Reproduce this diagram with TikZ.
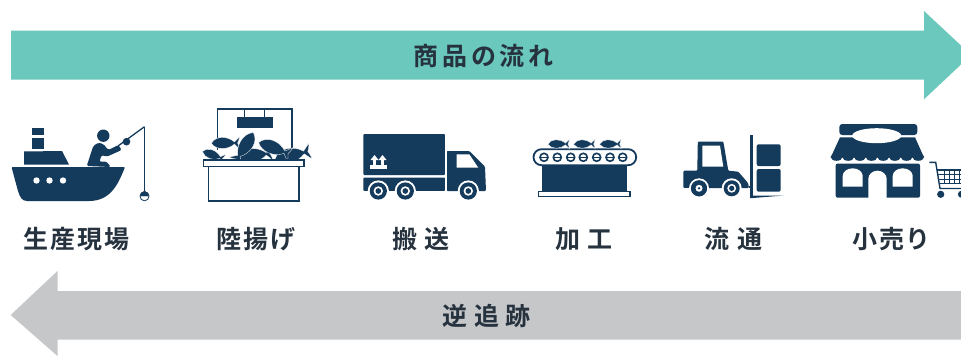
\documentclass[tikz,border=0pt]{standalone}
\usepackage{fontspec}
\newfontfamily\jp[LetterSpace=7]{Noto Sans CJK JP Bold}
\newfontfamily\jptop[LetterSpace=15]{Noto Sans CJK JP Bold}
\newfontfamily\jpbot[LetterSpace=27]{Noto Sans CJK JP Bold}
\usetikzlibrary{calc}
\definecolor{navy}{HTML}{143A5C}
\definecolor{teal}{HTML}{6BC8BC}
\definecolor{greyarrow}{HTML}{C6C7C9}
\definecolor{labelc}{HTML}{26333F}
\tikzset{
 lab/.style={font=\jp\fontsize{25}{25}\selectfont,text=labelc,inner sep=0pt,anchor=center},
 labtop/.style={font=\jptop\fontsize{25}{25}\selectfont,text=labelc,inner sep=0pt,anchor=center},
 labbot/.style={font=\jpbot\fontsize{25}{25}\selectfont,text=labelc,inner sep=0pt,anchor=center},
 ln/.style={draw=navy,line width=1.5pt},
}
\newcommand{\fishy}[4]{% x y angle scale
 \begin{scope}[shift={(#1,#2)},rotate=#3,scale=#4]
  \fill[navy,draw=white,line width=.3pt] (-13,0.5) .. controls (-9,-7) and (2,-7) .. (9,-1) -- (14,-6) .. controls (13.5,-3) and (12.5,-1) .. (12,0) .. controls (12.5,1) and (13.5,3) .. (14,6) -- (9,1) .. controls (3,6.5) and (-8,7) .. (-13,0.5) -- cycle;
 \end{scope}}
\newcommand{\wheel}[3]{% x y r
 \fill[white] (#1,#2) circle ({#3+2});
 \fill[navy] (#1,#2) circle (#3);
 \fill[white] (#1,#2) circle ({#3*.55});
 \fill[navy] (#1,#2) circle ({#3*.33});}
\begin{document}
\begin{tikzpicture}[x=1pt,y=-1pt]
\useasboundingbox (0,0) rectangle (961,356);
\fill[white] (0,0) rectangle (961,356);
% arrows
\fill[teal] (11,30.7) -- (924,30.7) -- (924,11) -- (961,45.5) -- (961,64.5) -- (924,99.3) -- (924,79.5) -- (11,79.5) -- cycle;
\fill[greyarrow] (961,291) -- (57.5,291) -- (57.5,271) -- (10.7,315) -- (57.5,356) -- (57.5,339.5) -- (961,339.5) -- cycle;
\node[labtop] (flow) at (483.5,56) {商品の流れ};
\node[labbot] (trace) at (486.5,316) {逆追跡};
% labels
\node[lab] (l1) at (76.5,239) {生産現場};
\node[lab] (l2) at (255.8,239) {陸揚げ};
\node[lab] (l3) at (421,239) {搬 送};
\node[lab] (l4) at (584,239) {加 工};
\node[lab] (l5) at (733.5,239) {流 通};
\node[lab] (l6) at (891.7,239) {小売り};
% ship
\fill[navy,rounded corners=1pt] (11.5,167) -- (125,167) .. controls (118,185) and (110,201) .. (88,201) -- (28,201) .. controls (22,201) and (20,197) .. (18,191) -- cycle;
\fill[navy] (24,164.5) -- (24,151.5) -- (62,151) -- (69,164.5) -- cycle;
\fill[navy] (32,128) rectangle (44,134.5);
\fill[navy] (32,138) rectangle (44,149);
\foreach \x in {36.5,49.5,63} \fill[white] (\x,180.5) circle (3.2);
% fisherman
\fill[navy] (103.3,135.7) circle (6.2);
\fill[navy,rounded corners=1.5pt] (86.7,166) -- (93.3,146) -- (98.3,142.7) -- (103.3,144) -- (108.3,150) -- (118.3,145) -- (121.7,150) -- (106.7,156.7) -- (101.7,155) -- (99.3,161.7) -- (106.7,161.7) -- (110.7,167) -- cycle;
\fill[navy] (126.5,141.7) circle (3.8);
\draw[navy,line width=1.3pt] (118,146) -- (144.5,126.7);
\draw[navy,line width=1.1pt] (144.5,126.7) -- (144.5,192);
\fill[navy] (139.8,196) arc (180:360:4.7) -- cycle;
\fill[navy] (144.5,190) -- (148.5,196) -- (140.5,196) -- cycle;
\draw[navy,line width=.8pt] (144.5,196.3) circle (4.5);
% market
\draw[ln] (217.5,150) -- (217.5,109) -- (292,109) -- (292,150);
\draw[navy,line width=.9pt] (244.5,109) -- (244.5,117) (264.5,109) -- (264.5,117);
\fill[navy] (236.7,116.7) rectangle (272.7,128.3);
\fishy{213}{155}{-20}{.85}
\fishy{255}{155}{6}{1.25}
\fishy{292}{155}{12}{1.35}
\fishy{225}{143}{0}{1.05}
\fishy{245}{146.5}{237}{1.25}
\fishy{274}{148}{-22}{1.25}
\draw[ln,fill=white] (203.5,160.2) rectangle (304,166.6);
\draw[ln] (208.5,166.6) -- (208.5,201) -- (299,201) -- (299,166.6);
% truck
\fill[navy,rounded corners=1pt] (363.3,134) rectangle (445,175);
\fill[navy,rounded corners=1pt] (363.3,177.5) -- (445,177.5) -- (445,191) -- (363.3,191) -- cycle;
\fill[navy,rounded corners=1pt] (446.7,151) -- (469.3,151) -- (485,166.7) -- (486,191) -- (446.7,191) -- cycle;
\fill[white] (456.7,154.3) -- (469.3,154.3) -- (478.3,167.7) -- (456.7,167.7) -- cycle;
\fill[white] (363.3,191) rectangle (445.5,200);
\fill[white] (445,130) rectangle (446.7,195);
\wheel{378.3}{191}{8.6}
\wheel{405.3}{191}{8.6}
\wheel{468.3}{191}{8.6}
% box handling mark
\fill[white] (370,165) rectangle (387,168.5);
\fill[white] (373,165.5) rectangle (376,159.5);
\fill[white] (381,165.5) rectangle (384,159.5);
\fill[white] (370.5,160) -- (374.5,155) -- (378.5,160) -- cycle;
\fill[white] (378.5,160) -- (382.5,155) -- (386.5,160) -- cycle;
% conveyor
\fill[navy] (541.7,166) rectangle (626.7,191.7);
\draw[navy,line width=1.2pt,fill=white] (538.7,191.7) rectangle (630,196.7);
\draw[navy,line width=1.8pt,fill=white,rounded corners=8pt] (533.5,149.2) rectangle (636.2,165.2);
\foreach \x in {544,557.3,570.7,583.3,596.7,610,622.7} {
 \draw[navy,line width=1.6pt] (\x,157.3) circle (4);
 \fill[navy] (\x-4,156.7) rectangle (\x+4,157.9);
}
\fishy{558.3}{144}{0}{.8}
\fishy{584}{144}{0}{.8}
\fishy{610}{144}{0}{.8}
% forklift
\fill[navy,rounded corners=1pt] (683.3,170.7) -- (697.3,170.7) -- (697.8,141.5) -- (723.3,141.5) -- (728.3,170.7) -- (738.3,171.7) -- (748,183) -- (749,188) -- (683.3,188) -- cycle;
\fill[white] (702.3,145.7) -- (720,145.7) -- (723.3,166.7) -- (702.3,166.7) -- cycle;
\wheel{699}{188.3}{8}
\wheel{731.7}{188.3}{8}
\fill[white] (680,188) rectangle (690,199);
\fill[navy] (699,188.3) circle (8);
\fill[white] (699,188.3) circle (3.5);
\fill[navy] (699,188.3) circle (1.3);
\fill[navy] (750,135) rectangle (753,198);
\fill[navy] (750,195.5) -- (784,195.5) -- (753,198) -- (750,198) -- cycle;
\fill[navy] (749,186) rectangle (750,188);
\fill[navy,rounded corners=2pt] (756.7,144.3) rectangle (780.7,166);
\fill[navy,rounded corners=2pt] (756.7,169) rectangle (780.7,191.7);
% shop
\fill[navy,rounded corners=3pt] (839.3,124) rectangle (917.3,135);
\fill[navy] (840,137.3) -- (915,137.3) -- (924,157.5) -- (830.7,157.5) -- cycle;
\foreach \i in {0,...,7} \fill[navy] ({830.7+\i*11.67+5.83},157) ellipse (5.83 and 3.8);
\fill[white] (876.7,135.7) ellipse (24.5 and 7.5);
\fill[navy,rounded corners=2pt] (835.7,163.5) rectangle (920,197.7);
\fill[white] (842.7,186.7) -- (842.7,176) arc (180:360:10 and 7.7) -- (862.7,186.7) -- cycle;
\fill[white] (892.7,186.7) -- (892.7,176) arc (180:360:10 and 7.7) -- (912.7,186.7) -- cycle;
\fill[white] (868.3,198) -- (868.3,179) arc (180:360:9.2 and 8.3) -- (886.7,198) -- cycle;
% cart
\draw[navy,line width=1.4pt] (929.3,162.3) -- (935.7,162.3) -- (940,188.5) -- (961,188.5);
\draw[navy,line width=1.2pt] (937,170) -- (961,170);
\draw[navy,line width=1.2pt] (939,183.3) -- (961,183.3);
\draw[navy,line width=.7pt] (938,174.5) -- (961,174.5) (938.7,179) -- (961,179);
\foreach \x in {944,949,954,959} \draw[navy,line width=.9pt] (\x,170) -- (\x,183.3);
\fill[navy] (940.7,194.3) circle (3.6);
\fill[navy] (961.5,194.3) circle (3.6);
\end{tikzpicture}
\end{document}
